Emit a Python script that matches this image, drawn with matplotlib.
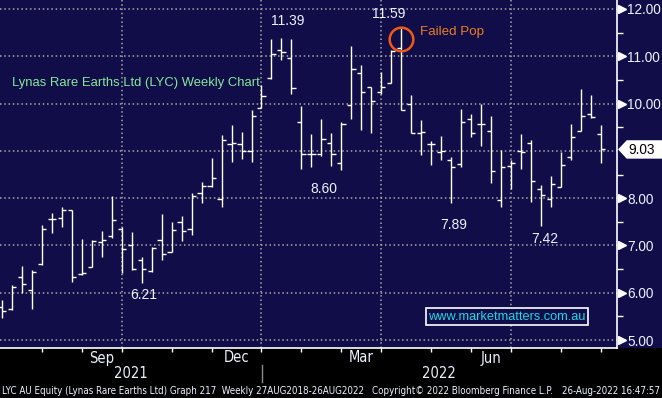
import matplotlib
matplotlib.use("Agg")
import matplotlib.pyplot as plt
import matplotlib.transforms as mtransforms
from matplotlib.patches import Rectangle, Polygon
import numpy as np
import pandas as pd

# ---------------- data ----------------
weeks = pd.date_range("2021-07-02", "2022-08-26", freq="W-FRI")
opens = [5.70, 5.65, 6.33, 6.05, 6.60, 7.55, 7.59, 7.76, 6.39, 6.54,
         7.07, 7.21, 7.34, 7.02, 6.69, 6.47, 7.12, 6.87, 7.50, 7.34,
         8.11, 8.25, 7.98, 9.14, 9.14, 9.00, 9.90, 10.54, 11.14, 10.97,
         9.62, 8.93, 8.93, 9.16, 8.75, 9.96, 10.65, 10.34, 10.25, 10.44,
         11.18, 10.00, 9.37, 9.14, 8.97, 8.80, 8.73, 9.68, 9.56, 9.41,
         7.96, 8.68, 8.99, 9.17, 8.19, 7.99, 8.23, 8.88, 9.42, 9.79, 9.35]
highs = [5.85, 6.17, 6.57, 6.48, 7.43, 7.69, 7.82, 7.76, 7.13, 7.12,
         7.30, 8.05, 7.38, 7.28, 6.75, 6.96, 7.67, 7.50, 7.62, 8.10,
         8.35, 8.84, 9.33, 9.54, 9.39, 9.86, 10.39, 11.36, 11.39, 11.36,
         9.94, 9.35, 9.68, 9.38, 9.62, 11.21, 10.81, 10.34, 10.66, 11.13,
         11.59, 10.18, 9.65, 9.20, 9.31, 8.86, 9.89, 9.77, 9.99, 9.73,
         9.01, 8.80, 9.35, 9.23, 8.27, 8.46, 8.98, 9.56, 10.30, 10.18, 9.54]
lows = [5.46, 5.64, 5.99, 5.66, 6.59, 7.26, 7.40, 6.23, 6.38, 6.54,
        6.76, 7.15, 6.42, 6.49, 6.21, 6.44, 6.70, 6.86, 7.10, 7.23,
        7.90, 8.23, 7.81, 8.76, 8.83, 8.76, 9.90, 10.53, 10.92, 10.20,
        8.61, 8.66, 8.90, 8.69, 8.60, 9.67, 9.45, 9.38, 10.21, 10.44,
        9.87, 9.38, 8.91, 8.70, 8.80, 7.89, 8.66, 9.30, 9.11, 8.32,
        7.82, 8.20, 8.61, 7.92, 7.42, 7.82, 8.23, 8.80, 9.42, 9.70, 8.75]
closes = [5.62, 6.13, 6.18, 6.43, 7.34, 7.57, 7.74, 6.33, 6.41, 7.10,
          7.12, 7.53, 6.93, 6.50, 6.51, 6.95, 6.83, 7.32, 7.31, 8.05,
          8.26, 8.43, 9.24, 9.16, 8.99, 9.74, 10.17, 11.05, 11.09, 10.32,
          8.93, 8.93, 9.26, 8.93, 9.56, 10.74, 10.24, 10.05, 10.34, 11.11,
          9.87, 9.38, 9.40, 9.15, 9.00, 8.65, 9.61, 9.37, 9.56, 8.57,
          8.65, 8.75, 8.98, 8.36, 8.06, 8.29, 8.71, 9.30, 9.73, 9.72, 9.03]
y_ticks = [5, 6, 7, 8, 9, 10, 11, 12]
month_labels = {9: "Sep", 12: "Dec", 3: "Mar", 6: "Jun"}
last_price = closes[-1]

# ---------------- style ----------------
W, H = 662, 398
NAVY = "#100d48"
WHITE = "#ffffff"
TXT = "#eef2ff"
GRID = "#a8a8a8"
ORANGE_C = "#f05a14"
ORANGE_T = "#ec7d22"
GREEN = "#86e89a"
CYAN = "#1ed8e8"
BASE = ["Liberation Sans", "DejaVu Sans"]
NARROW = dict(family="DejaVu Sans", fontstretch="condensed")

def fx(px):
    return px / W

def fy(py):
    return 1 - py / H

fig = plt.figure(figsize=(W / 100, H / 100), dpi=100)
fig.patch.set_facecolor("black")
ax_bottom_px = 348
ax_right_px = 617
fig.patches.append(Rectangle((0, fy(ax_bottom_px)), 1, 1 - fy(ax_bottom_px),
                             transform=fig.transFigure, facecolor=NAVY,
                             edgecolor="none", zorder=-5))
ax = fig.add_axes([0, fy(ax_bottom_px), fx(ax_right_px), 1 - fy(ax_bottom_px)])
ax.set_facecolor(NAVY)

n = len(closes)
x = np.arange(n)
ax.set_xlim(-0.2, 61.62)
ax.set_ylim(4.832, 12.19)

# grid
for yv in y_ticks:
    ax.axhline(yv, color=GRID, lw=1.1, ls=(0, (1, 1.8)), zorder=1)
month_end = [i for i in range(n) if i == n - 1 or weeks[i + 1].month != weeks[i].month]
quarter_end = [i for i in month_end if weeks[i].month in (3, 6, 9, 12)]
for i in quarter_end:
    ax.axvline(i, color=GRID, lw=1.1, ls=(0, (1, 1.8)), zorder=1)

# OHLC bars
tick = 0.42
ax.vlines(x, lows, highs, color=WHITE, lw=1.0, zorder=3)
ax.hlines(opens, x - tick, x, color=WHITE, lw=1.0, zorder=3)
ax.hlines(closes, x, x + tick, color=WHITE, lw=1.0, zorder=3)

# spines
for s in ["top", "left"]:
    ax.spines[s].set_visible(False)
ax.spines["bottom"].set_color(WHITE)
ax.spines["right"].set_color(WHITE)
ax.spines["bottom"].set_linewidth(1.2)
ax.spines["right"].set_linewidth(1.2)

# x ticks at month ends
ax.set_xticks(month_end)
ax.set_xticklabels([])
ax.tick_params(axis="x", direction="out", length=3, width=1, color=WHITE)

# y axis on right
ax.yaxis.tick_right()
ax.set_yticks(y_ticks)
ax.set_yticklabels(["" if v == 9 else f"{v:.2f}" for v in y_ticks],
                   color=TXT, fontsize=9.8, family=BASE)
ax.set_yticks([v + 0.5 for v in y_ticks[:-1]], minor=True)
ax.tick_params(axis="y", which="major", length=0, pad=7.5)
ax.tick_params(axis="y", which="minor", length=4, width=1, color=WHITE, direction="out")
ax.tick_params(axis="y", which="minor", labelright=False)

trans_r = mtransforms.blended_transform_factory(ax.transAxes, ax.transData)
for v in y_ticks:
    if v == 9:
        continue
    ax.plot([1 + 4.5 / ax_right_px], [v], marker=">", ms=5.5, color=WHITE,
            transform=trans_r, clip_on=False, zorder=5)

# last price flag
trans_f = mtransforms.blended_transform_factory(fig.transFigure, ax.transData)
hh = 0.18
poly = Polygon([(fx(619), last_price), (fx(627), last_price + hh), (fx(662), last_price + hh),
                (fx(662), last_price - hh), (fx(627), last_price - hh)],
               closed=True, transform=trans_f, facecolor=WHITE, edgecolor=WHITE,
               clip_on=False, zorder=6)
fig.patches.append(poly)
fig.text(fx(628), fy(150), f"{last_price:.2f}", color="black", fontsize=9.8,
         family=BASE, va="center", ha="left", zorder=7)

# month labels / years
tr_xa = mtransforms.blended_transform_factory(ax.transData, fig.transFigure)
for k in range(1, len(month_end)):
    i_end = month_end[k]
    m = weeks[i_end].month
    if m in month_labels:
        center = (month_end[k - 1] + i_end) / 2
        ax.text(center, fy(358), month_labels[m], transform=tr_xa,
                color=TXT, fontsize=10.5, ha="center", va="center", clip_on=False, **NARROW)
fig.text(fx(131), fy(373), "2021", color=TXT, fontsize=10.5, ha="center", va="center", **NARROW)
fig.text(fx(439), fy(373), "2022", color=TXT, fontsize=10.5, ha="center", va="center", **NARROW)
fig.add_artist(plt.Line2D([fx(262), fx(262)], [fy(365), fy(382)], color="#8a8a8a", lw=1,
                          transform=fig.transFigure))

# footer
fs_foot = 7.0
fig.text(fx(2), fy(391), "LYC AU Equity (Lynas Rare Earths Ltd) Graph 217  Weekly 27AUG2018-26AUG2022",
         color=TXT, fontsize=fs_foot, ha="left", va="center", **NARROW)
fig.text(fx(372), fy(391), "Copyright\u00a9 2022 Bloomberg Finance L.P.",
         color=TXT, fontsize=fs_foot, ha="left", va="center", **NARROW)
fig.text(fx(660), fy(391), "26-Aug-2022 16:47:57",
         color=TXT, fontsize=fs_foot, ha="right", va="center", **NARROW)

# annotations
ann = dict(color=TXT, fontsize=10, family=BASE, ha="center", va="center", zorder=6)
ax.text(28.66, 11.75, "11.39", **ann)
ax.text(38.7, 11.89, "11.59", **ann)
ax.text(32.3, 8.19, "8.60", **ann)
ax.text(14.2, 5.95, "6.21", **ann)
ax.text(45.3, 7.43, "7.89", **ann)
ax.text(54.4, 7.13, "7.42", **ann)
ax.text(1.0, 10.44, "Lynas Rare Earths Ltd (LYC) Weekly Chart", color=GREEN, fontsize=9.4,
        family=BASE, ha="left", va="center", zorder=6)
ax.plot([40.0], [11.37], marker="o", ms=17, mfc="none", mec=ORANGE_C, mew=1.8, zorder=6)
ax.text(41.9, 11.51, "Failed Pop", color=ORANGE_T, fontsize=9.6, family=BASE,
        ha="left", va="center", zorder=6)
ax.text(50.6, 5.49, "www.marketmatters.com.au", color=CYAN, fontsize=9.2, family=BASE,
        ha="center", va="center", zorder=6,
        bbox=dict(boxstyle="square,pad=0.2", facecolor=NAVY, edgecolor=WHITE, lw=1.2))

fig.savefig("out.png", dpi=100, facecolor=fig.get_facecolor())
